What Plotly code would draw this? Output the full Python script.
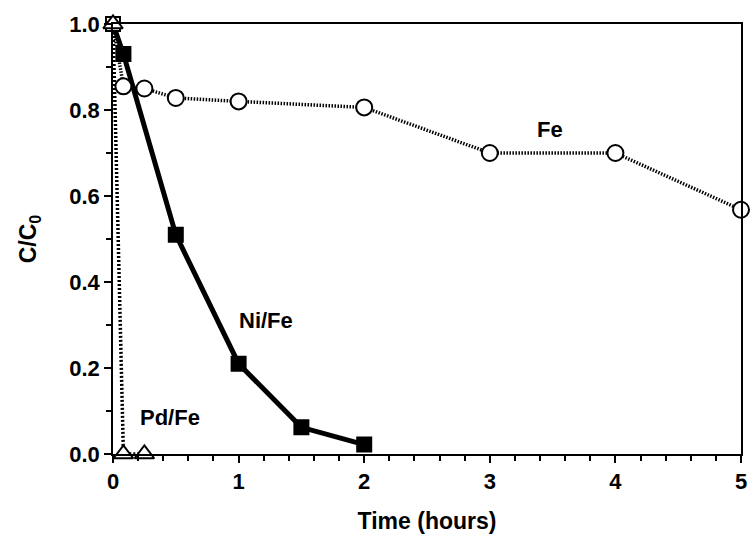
import plotly.graph_objects as go

fe_t = [0, 0.083, 0.25, 0.5, 1, 2, 3, 4, 5]
fe_c = [1.0, 0.855, 0.85, 0.828, 0.82, 0.806, 0.70, 0.70, 0.568]
ni_t = [0, 0.083, 0.5, 1, 1.5, 2]
ni_c = [1.0, 0.93, 0.51, 0.21, 0.062, 0.022]
pd_t = [0, 0.083, 0.25]
pd_c = [1.0, 0.0, 0.0]

x_ticks = [0, 1, 2, 3, 4, 5]
y_ticks = [0.0, 0.2, 0.4, 0.6, 0.8, 1.0]
y_labels = ["0.0", "0.2", "0.4", "0.6", "0.8", "1.0"]

font = "Liberation Sans, Arial, sans-serif"
fs = 22

fig = go.Figure()
# lines
fig.add_trace(go.Scatter(
    x=fe_t, y=fe_c, mode="lines",
    line=dict(color="black", width=3.5, dash="1.5px,1.5px"),
    showlegend=False))
fig.add_trace(go.Scatter(
    x=pd_t, y=pd_c, mode="lines",
    line=dict(color="black", width=3.5, dash="2px,2px"),
    showlegend=False))
fig.add_trace(go.Scatter(
    x=ni_t, y=ni_c, mode="lines",
    line=dict(color="black", width=5),
    showlegend=False))
# markers
fig.add_trace(go.Scatter(
    x=fe_t[1:], y=fe_c[1:], mode="markers",
    marker=dict(symbol="circle", size=16, color="white",
                line=dict(color="black", width=2)),
    cliponaxis=False, showlegend=False))
fig.add_trace(go.Scatter(
    x=ni_t, y=ni_c, mode="markers",
    marker=dict(symbol="square", size=14,
                color=["white", "black", "black", "black", "black", "black"],
                line=dict(color="black", width=2)),
    cliponaxis=False, showlegend=False))
fig.add_trace(go.Scatter(
    x=pd_t, y=pd_c, mode="markers",
    marker=dict(symbol="triangle-up", size=17, color="white",
                line=dict(color="black", width=2)),
    cliponaxis=False, showlegend=False))

fig.add_annotation(x=3.48, y=0.755, text="<b>Fe</b>", showarrow=False,
                   font=dict(size=fs, color="black", family=font))
fig.add_annotation(x=1.22, y=0.31, text="<b>Ni/Fe</b>", showarrow=False,
                   font=dict(size=fs, color="black", family=font))
fig.add_annotation(x=0.45, y=0.085, text="<b>Pd/Fe</b>", showarrow=False,
                   font=dict(size=fs, color="black", family=font))

fig.update_layout(
    width=753, height=536,
    margin=dict(l=113, r=6, t=24, b=79),
    plot_bgcolor="white", paper_bgcolor="white",
    font=dict(family=font, color="black", size=fs),
    xaxis=dict(range=[0, 5], tickvals=x_ticks, ticktext=[f"<b>{v}</b>" for v in x_ticks],
               ticks="outside", ticklen=7, tickwidth=1.5, tickcolor="black",
               minor=dict(dtick=0.2, ticks="outside", ticklen=5, tickwidth=1.5, tickcolor="black"),
               showline=True, linecolor="black", linewidth=1.5, mirror=True,
               showgrid=False, zeroline=False,
               title=dict(text="<b>Time (hours)</b>", font=dict(size=fs + 1), standoff=20),
               tickfont=dict(size=fs)),
    yaxis=dict(range=[0, 1], tickvals=y_ticks, ticktext=[f"<b>{v}</b>" for v in y_labels],
               ticks="outside", ticklen=7, tickwidth=1.5, tickcolor="black",
               minor=dict(dtick=0.1, ticks="outside", ticklen=5, tickwidth=1.5, tickcolor="black"),
               showline=True, linecolor="black", linewidth=1.5, mirror=True,
               showgrid=False, zeroline=False,
               title=dict(text="<b>C/C<sub>0</sub></b>", font=dict(size=fs + 1), standoff=26),
               tickfont=dict(size=fs)),
)

fig.write_html("out.html")
